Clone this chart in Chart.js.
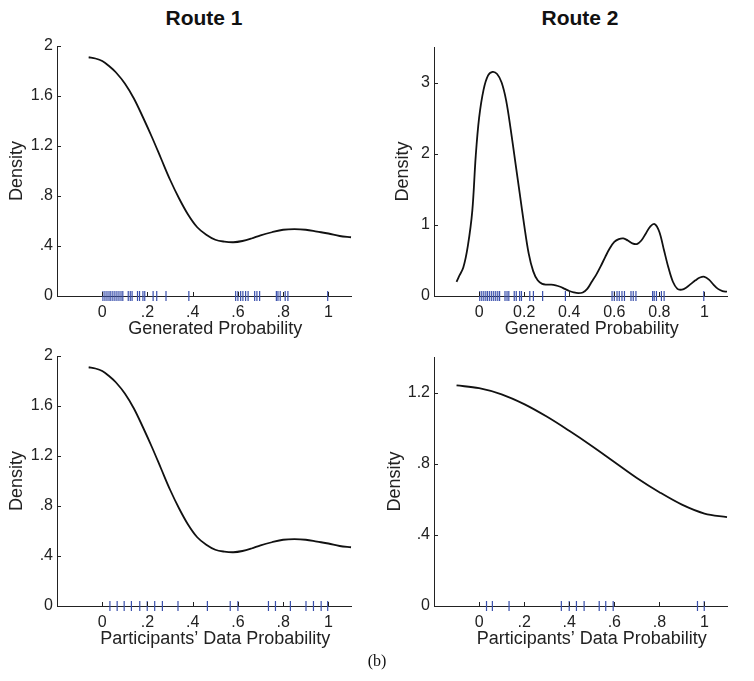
<!DOCTYPE html>
<html>
<head>
<meta charset="utf-8">
<script src="https://cdn.jsdelivr.net/npm/chart.js@4.4.0/dist/chart.umd.min.js"></script>
<style>
  html, body { margin: 0; padding: 0; background: #fff; }
  body { width: 754px; height: 681px; position: relative; overflow: hidden; }
  canvas { position: absolute; }
  .ttl { position: absolute; font: bold 21px "Liberation Sans", Arial, sans-serif; color: #111; transform: translate(-50%, -50%); white-space: nowrap; }
  .cap { position: absolute; font: 16px "Liberation Serif", "DejaVu Serif", serif; color: #111; transform: translate(-50%, -50%); }
</style>
</head>
<body>
<div class="ttl" style="left:204px; top:18px;">Route 1</div>
<div class="ttl" style="left:580px; top:18px;">Route 2</div>
<canvas id="c1" width="377" height="315" style="left:0px; top:30px;"></canvas>
<canvas id="c2" width="377" height="315" style="left:377px; top:30px;"></canvas>
<canvas id="c3" width="377" height="315" style="left:0px; top:340px;"></canvas>
<canvas id="c4" width="377" height="315" style="left:377px; top:340px;"></canvas>
<div class="cap" style="left:377px; top:661px;">(b)</div>
<script>
// ---------- data ----------
const xTickValues = [0, 0.2, 0.4, 0.6, 0.8, 1];
const xTickLabelsShort = ['0', '.2', '.4', '.6', '.8', '1'];
const xTickLabelsLong = ['0', '0.2', '0.4', '0.6', '0.8', '1'];

const yTicksRoute1 = [0, 0.4, 0.8, 1.2, 1.6, 2];
const yLabelsRoute1 = ['0', '.4', '.8', '1.2', '1.6', '2'];
const yTicksRoute2Gen = [0, 1, 2, 3];
const yLabelsRoute2Gen = ['0', '1', '2', '3'];
const yTicksRoute2Part = [0, 0.4, 0.8, 1.2];
const yLabelsRoute2Part = ['0', '.4', '.8', '1.2'];

// density curves
const route1GenX = [-0.06, -0.03, 0, 0.03, 0.06, 0.1, 0.14, 0.18, 0.22, 0.26, 0.3, 0.34, 0.38, 0.42, 0.46, 0.5, 0.54, 0.58, 0.62, 0.66, 0.7, 0.75, 0.8, 0.85, 0.9, 0.95, 1.0, 1.05, 1.1];
const route1GenY = [1.91, 1.90, 1.88, 1.84, 1.79, 1.70, 1.58, 1.43, 1.27, 1.10, 0.93, 0.78, 0.65, 0.55, 0.49, 0.45, 0.435, 0.43, 0.44, 0.46, 0.485, 0.51, 0.53, 0.535, 0.53, 0.515, 0.50, 0.48, 0.47];

const route2GenX = [-0.1, -0.09, -0.07, -0.05, -0.03, -0.015, 0, 0.02, 0.04, 0.06, 0.08, 0.1, 0.12, 0.14, 0.16, 0.18, 0.2, 0.22, 0.24, 0.26, 0.28, 0.3, 0.32, 0.34, 0.36, 0.38, 0.4, 0.42, 0.44, 0.46, 0.48, 0.5, 0.52, 0.54, 0.56, 0.58, 0.6, 0.62, 0.64, 0.66, 0.68, 0.7, 0.72, 0.74, 0.76, 0.78, 0.8, 0.82, 0.84, 0.86, 0.88, 0.9, 0.92, 0.94, 0.96, 0.98, 1.0, 1.02, 1.04, 1.06, 1.08, 1.1];
const route2GenY = [0.2, 0.27, 0.4, 0.7, 1.2, 1.96, 2.5, 2.9, 3.1, 3.15, 3.12, 3.0, 2.75, 2.35, 1.9, 1.45, 1.0, 0.6, 0.35, 0.22, 0.17, 0.16, 0.16, 0.15, 0.13, 0.1, 0.07, 0.05, 0.04, 0.05, 0.1, 0.2, 0.3, 0.42, 0.55, 0.67, 0.76, 0.8, 0.81, 0.78, 0.74, 0.73, 0.78, 0.88, 0.98, 1.01, 0.9, 0.65, 0.4, 0.2, 0.1, 0.09, 0.12, 0.17, 0.22, 0.26, 0.27, 0.23, 0.16, 0.1, 0.07, 0.06];

const route1PartX = [-0.06, -0.03, 0, 0.03, 0.06, 0.1, 0.14, 0.18, 0.22, 0.26, 0.3, 0.34, 0.38, 0.42, 0.46, 0.5, 0.54, 0.58, 0.62, 0.66, 0.7, 0.75, 0.8, 0.85, 0.9, 0.95, 1.0, 1.05, 1.1];
const route1PartY = [1.91, 1.90, 1.88, 1.84, 1.79, 1.70, 1.58, 1.43, 1.27, 1.10, 0.93, 0.78, 0.65, 0.55, 0.49, 0.45, 0.435, 0.43, 0.44, 0.46, 0.485, 0.51, 0.53, 0.535, 0.53, 0.515, 0.50, 0.48, 0.47];

const route2PartX = [-0.1, 0, 0.1, 0.2, 0.3, 0.4, 0.5, 0.6, 0.7, 0.8, 0.9, 1.0, 1.1];
const route2PartY = [1.24, 1.225, 1.19, 1.135, 1.065, 0.985, 0.90, 0.81, 0.72, 0.64, 0.57, 0.52, 0.50];

// rug values (observations)
const rugGenerated = [0.003, 0.012, 0.021, 0.03, 0.038, 0.047, 0.056, 0.065, 0.074, 0.083, 0.091, 0.115, 0.124, 0.132, 0.156, 0.165, 0.18, 0.188, 0.225, 0.241, 0.282, 0.383, 0.59, 0.6, 0.612, 0.622, 0.634, 0.645, 0.674, 0.684, 0.696, 0.77, 0.777, 0.787, 0.809, 0.821, 0.997];
const rugParticipantsRoute1 = [0.034, 0.066, 0.097, 0.129, 0.166, 0.199, 0.232, 0.266, 0.335, 0.465, 0.566, 0.6, 0.735, 0.766, 0.832, 0.901, 0.934, 0.968, 0.997];
const rugParticipantsRoute2 = [0.033, 0.059, 0.133, 0.365, 0.4, 0.432, 0.466, 0.533, 0.562, 0.595, 0.969, 0.999];

// ---------- drawing ----------
const FONT = '"Liberation Sans", Arial, Helvetica, sans-serif';
const AXIS = '#222';
const RUG = '#3a50ac';

const panelDecor = {
  id: 'panelDecor',
  afterDraw(chart, args, o) {
    const { ctx, chartArea, scales: { x, y } } = chart;
    ctx.save();
    ctx.strokeStyle = AXIS;
    ctx.lineWidth = 1;
    x.ticks.forEach(t => {
      const px = Math.round(x.getPixelForValue(t.value)) + 0.5;
      ctx.beginPath(); ctx.moveTo(px, chartArea.bottom); ctx.lineTo(px, chartArea.bottom - 4); ctx.stroke();
    });
    y.ticks.forEach(t => {
      const py = Math.round(y.getPixelForValue(t.value)) + 0.5;
      ctx.beginPath(); ctx.moveTo(chartArea.left, py); ctx.lineTo(chartArea.left + 4, py); ctx.stroke();
    });
    ctx.font = '18px ' + FONT;
    ctx.fillStyle = AXIS;
    ctx.textAlign = 'center';
    ctx.textBaseline = 'middle';
    ctx.fillText(o.xTitle, x.getPixelForValue(0.5), o.xTitleY);
    ctx.restore();
  }
};

function makePanel(id, cfg) {
  const curve = cfg.curveX.map((v, i) => ({ x: v, y: cfg.curveY[i] }));
  const rug = cfg.rug.map(v => ({ x: v, y: 0 }));
  new Chart(document.getElementById(id), {
    type: 'line',
    data: {
      datasets: [
        { data: curve, borderColor: '#111', borderWidth: 1.8, pointRadius: 0, tension: 0.35, fill: false, clip: false },
        { data: rug, showLine: false, pointStyle: 'line', rotation: 90, pointRadius: 5, pointBorderColor: RUG, pointBackgroundColor: RUG, pointBorderWidth: 1.2, clip: false }
      ]
    },
    options: {
      responsive: false,
      animation: false,
      events: [],
      layout: { padding: { top: cfg.padTop, right: cfg.padRight, left: 0, bottom: 0 } },
      plugins: { legend: { display: false }, tooltip: { enabled: false }, panelDecor: { xTitle: cfg.xTitle, xTitleY: 299 } },
      scales: {
        x: {
          type: 'linear', min: -0.2, max: 1.1,
          afterFit: s => { s.height = 49; },
          afterBuildTicks: s => { s.ticks = xTickValues.map(v => ({ value: v })); },
          grid: { drawOnChartArea: false, drawTicks: false },
          border: { display: true, color: AXIS, width: 1 },
          ticks: { padding: 7, color: AXIS, font: { family: FONT, size: 16 }, autoSkip: false, maxRotation: 0,
                   callback: (v, i) => cfg.xLabels[i] }
        },
        y: {
          type: 'linear', min: 0, max: cfg.yMax,
          afterFit: s => { s.width = 57; },
          afterBuildTicks: s => { s.ticks = cfg.yTicks.map(v => ({ value: v })); },
          grid: { drawOnChartArea: false, drawTicks: false },
          border: { display: true, color: AXIS, width: 1 },
          ticks: { padding: 4, color: AXIS, font: { family: FONT, size: 16 }, autoSkip: false,
                   callback: (v, i) => cfg.yLabels[i] },
          title: { display: true, text: 'Density', color: AXIS, font: { family: FONT, size: 18 }, padding: { top: cfg.yTitlePad, bottom: 0 } }
        }
      }
    },
    plugins: [panelDecor]
  });
}

makePanel('c1', { curveX: route1GenX, curveY: route1GenY, rug: rugGenerated, yMax: 2, yTicks: yTicksRoute1, yLabels: yLabelsRoute1,
  xLabels: xTickLabelsShort, xTitle: 'Generated Probability', padTop: 16, padRight: 26, yTitlePad: 6 });
makePanel('c2', { curveX: route2GenX, curveY: route2GenY, rug: rugGenerated, yMax: 3.5, yTicks: yTicksRoute2Gen, yLabels: yLabelsRoute2Gen,
  xLabels: xTickLabelsLong, xTitle: 'Generated Probability', padTop: 17, padRight: 27, yTitlePad: 15 });
makePanel('c3', { curveX: route1PartX, curveY: route1PartY, rug: rugParticipantsRoute1, yMax: 2, yTicks: yTicksRoute1, yLabels: yLabelsRoute1,
  xLabels: xTickLabelsShort, xTitle: 'Participants\u2019 Data Probability', padTop: 16, padRight: 26, yTitlePad: 6 });
makePanel('c4', { curveX: route2PartX, curveY: route2PartY, rug: rugParticipantsRoute2, yMax: 1.4, yTicks: yTicksRoute2Part, yLabels: yLabelsRoute2Part,
  xLabels: xTickLabelsShort, xTitle: 'Participants\u2019 Data Probability', padTop: 17, padRight: 27, yTitlePad: 7 });
</script>
</body>
</html>
